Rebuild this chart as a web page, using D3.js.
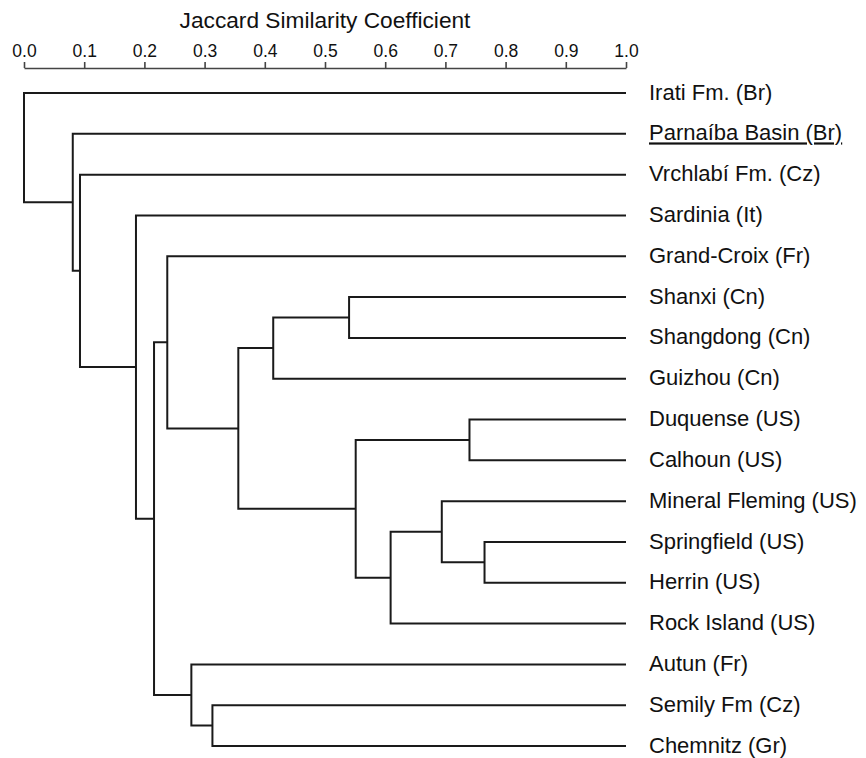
<!DOCTYPE html>
<html>
<head>
<meta charset="utf-8">
<script src="https://cdn.jsdelivr.net/npm/d3@7"></script>
<style>
  body { margin: 0; background: #fff; }
  svg { display: block; font-family: "Liberation Sans", Arial, sans-serif; }
  .axis path, .axis line { stroke: #444; stroke-width: 1.6; }
  .axis text { font-size: 17.5px; fill: #111; }
  .branch { fill: none; stroke: #1a1a1a; stroke-width: 2; }
</style>
</head>
<body>
<svg></svg>
<script>
var leaves = ["Irati Fm. (Br)", "Parnaíba Basin (Br)", "Vrchlabí Fm. (Cz)", "Sardinia (It)",
  "Grand-Croix (Fr)", "Shanxi (Cn)", "Shangdong (Cn)", "Guizhou (Cn)", "Duquense (US)",
  "Calhoun (US)", "Mineral Fleming (US)", "Springfield (US)", "Herrin (US)",
  "Rock Island (US)", "Autun (Fr)", "Semily Fm (Cz)", "Chemnitz (Gr)"];

// merges: [child a, child b, similarity]; numbers refer to earlier merges
var merges = [
  ["Shanxi (Cn)", "Shangdong (Cn)", 0.540],
  [0, "Guizhou (Cn)", 0.414],
  ["Duquense (US)", "Calhoun (US)", 0.740],
  ["Springfield (US)", "Herrin (US)", 0.765],
  ["Mineral Fleming (US)", 3, 0.694],
  [4, "Rock Island (US)", 0.609],
  [2, 5, 0.551],
  [1, 6, 0.356],
  ["Grand-Croix (Fr)", 7, 0.238],
  ["Semily Fm (Cz)", "Chemnitz (Gr)", 0.313],
  ["Autun (Fr)", 9, 0.278],
  [8, 10, 0.216],
  ["Sardinia (It)", 11, 0.186],
  ["Vrchlabí Fm. (Cz)", 12, 0.093],
  ["Parnaíba Basin (Br)", 13, 0.081],
  ["Irati Fm. (Br)", 14, 0.0]
];

var tickValues = [0, 0.1, 0.2, 0.3, 0.4, 0.5, 0.6, 0.7, 0.8, 0.9, 1.0];
var underlined = ["Parnaíba Basin (Br)"];

var width = 866, height = 758;
var svg = d3.select("svg").attr("width", width).attr("height", height);

var x = d3.scaleLinear().domain([0, 1]).range([24, 626]);
var y = d3.scalePoint().domain(leaves).range([93, 746]);

// axis on top
var axis = d3.axisTop(x)
  .tickValues(tickValues)
  .tickFormat(d3.format(".1f"))
  .tickSize(6)
  .tickSizeOuter(0)
  .tickPadding(5);

var ax = svg.append("g")
  .attr("class", "axis")
  .attr("transform", "translate(0,68)")
  .call(axis);
ax.attr("font-family", null).attr("font-size", null);

svg.append("text")
  .attr("x", (x(0) + x(1)) / 2)
  .attr("y", 28)
  .attr("text-anchor", "middle")
  .style("font-size", "22.7px")
  .style("fill", "#111")
  .text("Jaccard Similarity Coefficient");

// node positions
var pos = merges.map(function() { return null; });
function getPos(c) {
  if (typeof c === "string") return {x: x(1), y: y(c)};
  return pos[c];
}
merges.forEach(function(m, i) {
  var a = getPos(m[0]), b = getPos(m[1]);
  pos[i] = {x: x(m[2]), y: (a.y + b.y) / 2, a: a, b: b};
});

svg.append("g").selectAll("path")
  .data(pos)
  .enter().append("path")
  .attr("class", "branch")
  .attr("d", function(d) {
    return "M" + d.a.x + "," + d.a.y + "H" + d.x + "V" + d.b.y + "H" + d.b.x;
  });

svg.append("g").selectAll("text")
  .data(leaves)
  .enter().append("text")
  .attr("x", 649)
  .attr("y", function(d) { return y(d); })
  .attr("dy", "0.3em")
  .style("font-size", "22px")
  .style("fill", "#111")
  .style("text-decoration", function(d) { return underlined.indexOf(d) >= 0 ? "underline" : null; })
  .text(function(d) { return d; });
</script>
</body>
</html>
